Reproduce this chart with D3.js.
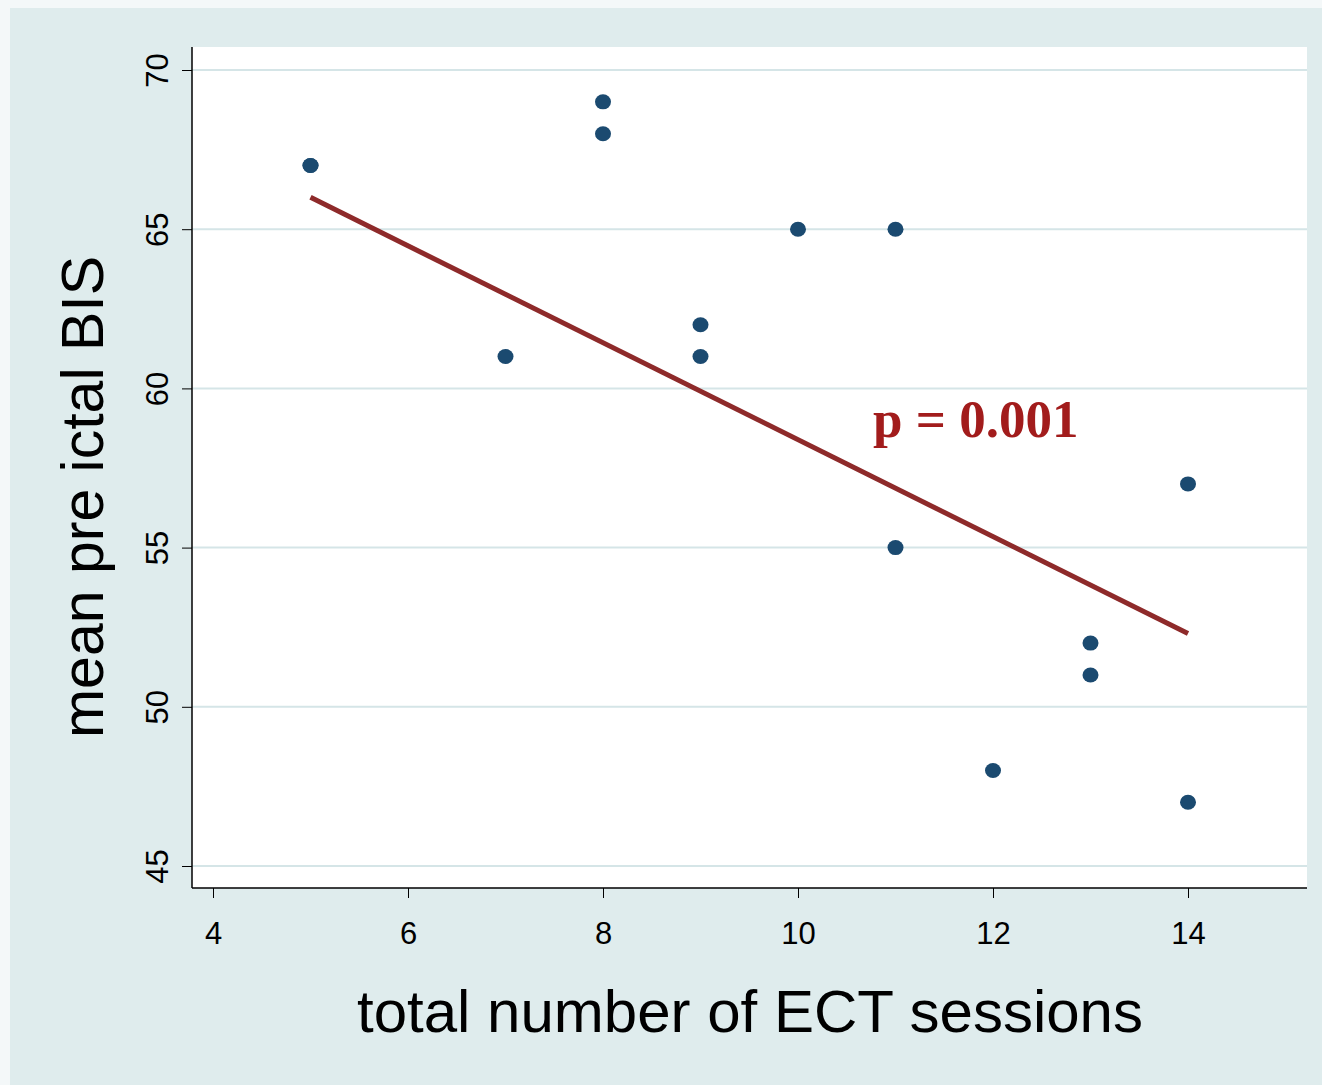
<!DOCTYPE html>
<html><head><meta charset="utf-8">
<script src="https://cdn.jsdelivr.net/npm/d3@7"></script>
<style>body{margin:0;background:#f4f8f9}</style>
</head><body>
<div id="chart"></div>
<script>
// data
const sessions = [5, 5, 8, 8, 10, 11, 9, 7, 9, 14, 11, 13, 13, 12, 14];
const bis      = [67, 67, 69, 68, 65, 65, 62, 61, 61, 57, 55, 52, 51, 48, 47];
const fitX = [5, 14];
const fitY = [66, 52.3];
const xTicks = [4, 6, 8, 10, 12, 14];
const yTicks = [45, 50, 55, 60, 65, 70];

const W = 1322, H = 1085;
const svg = d3.select("#chart").append("svg").attr("width", W).attr("height", H);

svg.append("rect").attr("x", 10).attr("y", 8).attr("width", 1312).attr("height", 1077).attr("fill", "#dfeced");

const pL = 192, pR = 1307, pT = 47, pB = 888;
svg.append("rect").attr("x", pL).attr("y", pT).attr("width", pR - pL).attr("height", pB - pT).attr("fill", "#fff");

const x = d3.scaleLinear().domain([4, 14]).range([213, 1188]);
const y = d3.scaleLinear().domain([45, 70]).range([866, 70]);

// grid
svg.selectAll(".grid").data(yTicks).enter().append("line")
  .attr("x1", pL).attr("x2", pR)
  .attr("y1", d => y(d)).attr("y2", d => y(d))
  .attr("stroke", "#d5e5e7").attr("stroke-width", 2);

// axes
const xa = svg.append("g").attr("transform", `translate(0,${pB})`)
  .call(d3.axisBottom(x).tickValues(xTicks).tickSize(10).tickPadding(24));
xa.select(".domain").attr("d", `M${pL},0H${pR}`).attr("stroke-width", 1.5);
xa.selectAll("text").attr("font-size", 31).attr("font-family", "Liberation Sans, Arial").attr("fill", "#000");

const ya = svg.append("g").attr("transform", `translate(${pL},0)`)
  .call(d3.axisLeft(y).tickValues(yTicks).tickSize(10));
ya.select(".domain").attr("d", `M0,${pT}V${pB}`).attr("stroke-width", 1.5);
ya.selectAll("text").attr("font-size", 31).attr("font-family", "Liberation Sans, Arial").attr("fill", "#000")
  .attr("text-anchor", "middle").attr("x", 0).attr("y", 0).attr("dy", "0.35em")
  .attr("transform", "translate(-35,0) rotate(-90)");

// fit line
svg.append("path").datum(fitX.map((v, i) => [v, fitY[i]]))
  .attr("d", d3.line().x(d => x(d[0])).y(d => y(d[1])))
  .attr("stroke", "#8e2a2a").attr("stroke-width", 5).attr("fill", "none");

// points
svg.selectAll(".pt").data(sessions.map((v, i) => [v, bis[i]])).enter().append("ellipse")
  .attr("cx", d => x(d[0])).attr("cy", d => y(d[1]))
  .attr("rx", 8).attr("ry", 7.5).attr("fill", "#1b4a70");

// annotation
svg.append("text").attr("x", 873).attr("y", 437).text("p = 0.001")
  .attr("font-family", "Liberation Serif, Times New Roman").attr("font-weight", "bold")
  .attr("font-size", 53).attr("fill", "#a21c1c");

// titles
svg.append("text").attr("x", 750).attr("y", 1032).attr("text-anchor", "middle")
  .attr("font-family", "Liberation Sans, Arial").attr("font-size", 60).text("total number of ECT sessions");
svg.append("text").attr("transform", "translate(103,497) rotate(-90)").attr("text-anchor", "middle")
  .attr("font-family", "Liberation Sans, Arial").attr("font-size", 59).text("mean pre ictal BIS");
</script>
</body></html>
